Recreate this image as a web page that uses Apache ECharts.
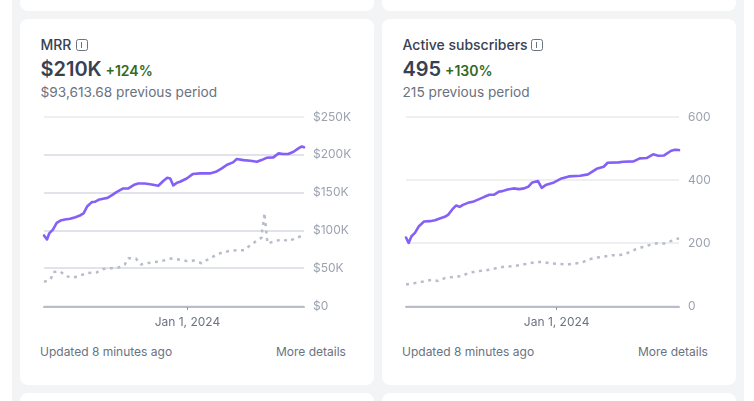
<!DOCTYPE html>
<html>
<head>
<meta charset="utf-8">
<title>Subscription metrics</title>
<script src="https://cdn.jsdelivr.net/npm/echarts@6/dist/echarts.min.js"></script>
<style>
  html, body { margin: 0; padding: 0; background: #fff; overflow: hidden; }
  body { width: 754px; height: 401px; position: relative; font-family: Inter, "Noto Sans", sans-serif; }
  .page { position: absolute; left: 12px; top: 0; width: 732px; height: 401px; background: #f3f4f6; }
  .card { position: absolute; background: #fff; border-radius: 8px; width: 354px; }
  .t { position: absolute; white-space: nowrap; line-height: 1; }
  .name { top: 38px; font-size: 14px; font-weight: 500; color: #374151; }
  .big { top: 59px; font-size: 20px; font-weight: 600; color: #374151; }
  .delta { top: 64px; font-size: 14px; font-weight: 600; color: #33691e; }
  .prev { top: 86px; font-size: 13.7px; color: #6b7280; }
  .foot { top: 346px; font-size: 12px; color: #6b7280; }
  .icon { position: absolute; top: 39px; width: 9.5px; height: 9.5px; border: 1.2px solid #6b7280; border-radius: 2.5px; }
  .icon::after { content: ""; position: absolute; left: 3.9px; top: 2px; width: 1.6px; height: 5.5px; background: #6b7280; }
  .chart { position: absolute; top: 100px; width: 354px; height: 240px; }
</style>
</head>
<body>
<div class="page"></div>
<div class="card" style="left:20px;top:-40px;height:51px"></div>
<div class="card" style="left:382px;top:-40px;height:51px"></div>
<div class="card" style="left:20px;top:19px;height:366px"></div>
<div class="card" style="left:382px;top:19px;height:366px"></div>
<div class="card" style="left:20px;top:393px;height:60px"></div>
<div class="card" style="left:382px;top:393px;height:60px"></div>

<div class="t name" style="left:40.5px">MRR</div><div class="icon" style="left:76px"></div>
<div class="t big" style="left:40.5px">$210K</div>
<div class="t delta" style="left:105.5px">+124%</div>
<div class="t prev" style="left:40.5px">$93,613.68 previous period</div>
<div class="t foot" style="left:40px">Updated 8 minutes ago</div>
<div class="t foot" style="left:276px">More details</div>

<div class="t name" style="left:402.5px">Active subscribers</div><div class="icon" style="left:531px"></div>
<div class="t big" style="left:402.5px">495</div>
<div class="t delta" style="left:445px">+130%</div>
<div class="t prev" style="left:402.5px">215 previous period</div>
<div class="t foot" style="left:402px">Updated 8 minutes ago</div>
<div class="t foot" style="left:638px">More details</div>

<div class="chart" id="mrr" style="left:20px"></div>
<div class="chart" id="subs" style="left:382px"></div>

<script>
// x values are days relative to Jan 1, 2024
const periodStart = -192;
const periodEnd = 156;
const xTickDays = [0];
const xTickLabels = ['Jan 1, 2024'];

// MRR, in thousands of dollars
const mrrTicks = [0, 50, 100, 150, 200, 250];
const mrrDays = [-192,-188,-185,-180,-175,-170,-164,-157,-150,-144,-139,-134,-128,-124,-119,-113,-107,-101,-95,-86,-79,-72,-66,-57,-48,-39,-32,-27,-23,-19,-14,-10,-1,7,17,30,38,46,53,61,66,75,84,93,99,106,115,122,128,135,142,149,153,156];
const mrrValues = [93.3,88,96,101,110,113,114.5,115.3,117.5,119.7,122.4,132,137.4,137.8,140.4,141.8,143,146.7,150.6,155.5,155.5,160,162,162,160.8,159,165.6,169.6,168.7,159.5,163,164.3,168.7,174.5,175.4,175.4,177.5,182,186.8,190,194.4,193,192.2,190.8,193,196,196.6,201.9,201,201,204,208.9,211,210];
const mrrPrevDays = [-192,-183,-179.5,-170,-162.5,-152,-143,-132.6,-122,-112.5,-102,-92.5,-84,-79,-69,-62.5,-52,-42,-32,-22,-12,-1,9,19,28,37,46,57,66,76,83,90.5,99.5,100,102,103,105,106,107.5,117,127.5,136,145,156];
const mrrPrevValues = [31.8,35.4,45,45.5,39.3,37.6,40.7,43.7,44.2,49,50,50.8,54.8,63.2,62.8,54.8,57,58.3,60.1,62.8,61.5,59.6,60.1,56.6,61.9,66.8,70.7,72.9,73.8,73.8,79.5,84.8,90.6,100.3,112.2,123.2,104.7,91.4,82.7,86,88,85.7,90,93.61];

// Active subscribers, as a count
const subsTicks = [0, 200, 400, 600];
const subsDays = [-192,-188.6,-185,-180.6,-175.5,-169,-161.6,-155,-149,-142.6,-138.4,-133,-128,-123.6,-119.4,-113,-105.5,-98,-92,-85.7,-80,-74,-69,-62.5,-55,-47.7,-41.4,-36.3,-31,-23.7,-19,-14,-3.4,6.3,15.6,30,40,51,60,65,79,85,98,106,114.7,123,129.5,137,146,151,156];
const subsValues = [217.4,200.3,221.6,232,253.4,268.3,269.3,272.5,277.9,283,289.4,306.5,319.2,314.8,321,327.5,332,340,346.6,353,353,362.5,364.7,370,373.3,371,373.3,378.4,392.4,396.5,375.2,383.8,392.4,405,411.4,413.4,417.8,435.6,442,454.7,456,457.9,459,468.7,469.6,481.4,477,478,492.8,496,495];
const subsPrevDays = [-192,-180,-170,-160,-151,-142,-132,-122,-113,-102.5,-93,-83.5,-74,-64.5,-55,-45,-35,-25,-16,-5.6,4,14.3,23,32.4,41.8,52,61,71,81,90.6,100,109,119,128.6,137,146.3,156];
const subsPrevValues = [68,73,77.6,82.7,79.5,89,92.2,94.4,104,110.3,112.6,115.7,122,125.3,126.2,130.4,135.8,140,139,134.8,133.5,131.6,134.8,138,148.5,153.9,157,161.2,162,168.5,179.3,186.6,194,199.4,198.4,206.7,215];

const pairs = (xs, ys) => xs.map((x, i) => [x, ys[i]]);

function drawPanel(id, right, ticks, gridColors, fmt, cur, prev) {
  const chart = echarts.init(document.getElementById(id), null, { renderer: 'canvas' });
  chart.setOption({
    animation: false,
    grid: { left: 24, right: right, top: 17, bottom: 34 },
    xAxis: {
      type: 'value',
      min: periodStart,
      max: periodEnd,
      offset: 1,
      splitLine: { show: false },
      axisLine: { show: true, onZero: false, lineStyle: { color: '#b9bdca', width: 2 } },
      axisTick: { show: true, length: 3, customValues: xTickDays, lineStyle: { color: '#8d93a0', width: 1 } },
      axisLabel: {
        customValues: xTickDays,
        margin: 9,
        color: '#6b7280',
        fontFamily: 'Inter',
        fontSize: 12,
        formatter: v => xTickLabels[xTickDays.indexOf(v)] || ''
      }
    },
    yAxis: {
      type: 'value',
      position: 'right',
      min: 0,
      max: ticks[ticks.length - 1],
      interval: ticks[1],
      axisLine: { show: false },
      axisTick: { show: false },
      axisLabel: {
        margin: 9, color: '#9ca3af', fontFamily: 'Inter', fontSize: 12,
        padding: [3, 0, 0, 0], formatter: fmt
      },
      splitLine: { show: true, lineStyle: { width: 1.5, color: gridColors } }
    },
    series: [
      {
        type: 'line', data: prev, showSymbol: false, silent: true, z: 2,
        lineStyle: { color: '#b9bdca', width: 2.5, type: [3, 4.5], cap: 'butt' }
      },
      {
        type: 'line', data: cur, showSymbol: false, silent: true, z: 3,
        lineStyle: { color: '#8560f7', width: 2.6, cap: 'round', join: 'round' }
      }
    ]
  });
}

drawPanel('mrr', 70, mrrTicks, ['#e8eaee', '#d6dae3', '#d6dae3', '#d6dae3', '#d6dae3', '#e8eaee'],
  v => v === 0 ? '$0' : '$' + v + 'K',
  pairs(mrrDays, mrrValues), pairs(mrrPrevDays, mrrPrevValues));

drawPanel('subs', 57, subsTicks, ['#e8eaee'],
  v => String(v),
  pairs(subsDays, subsValues), pairs(subsPrevDays, subsPrevValues));
</script>
</body>
</html>
